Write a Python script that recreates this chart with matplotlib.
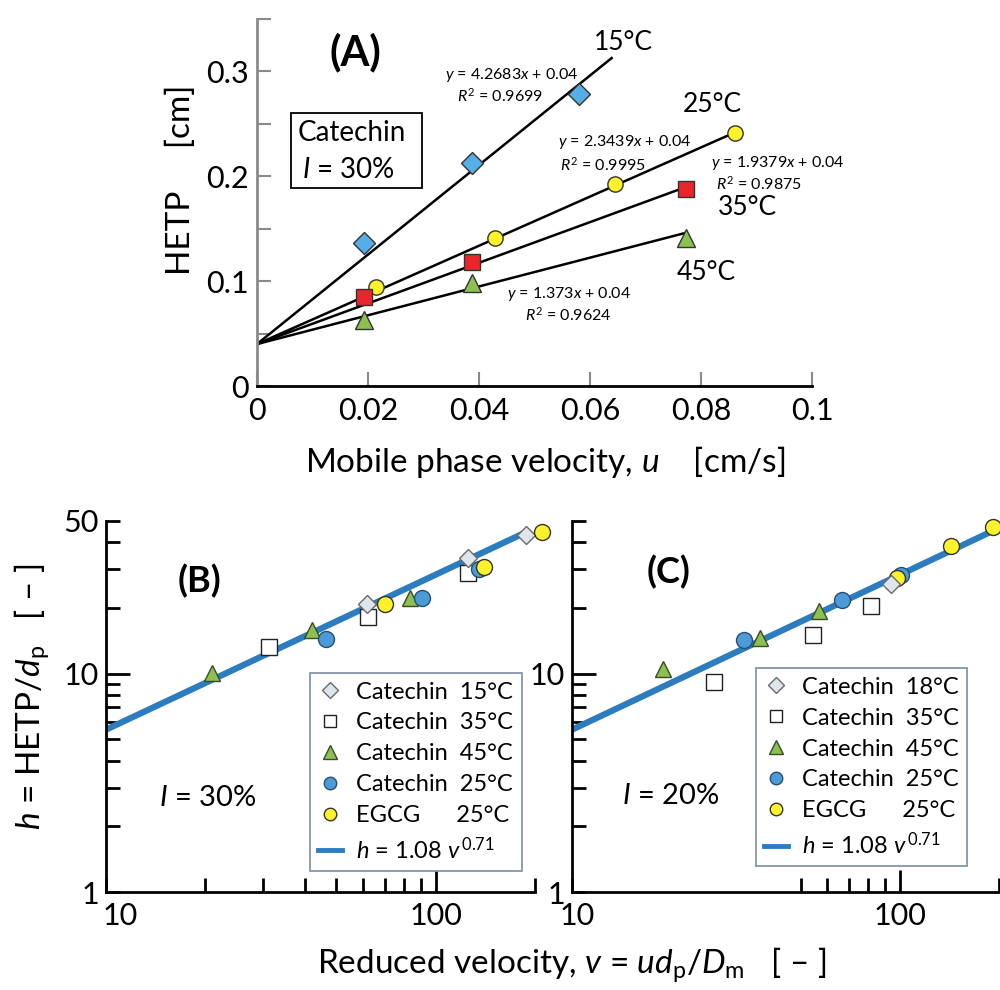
import matplotlib.pyplot as plt
import matplotlib.transforms as mtrans
import numpy as np
from matplotlib.patches import Rectangle
from matplotlib.lines import Line2D

plt.rcParams['font.family'] = ['Lato', 'DejaVu Sans']
plt.rcParams['mathtext.fontset'] = 'custom'
plt.rcParams['mathtext.rm'] = 'Lato'
plt.rcParams['mathtext.it'] = 'Lato:italic'
plt.rcParams['mathtext.bf'] = 'Lato:bold'

# ---- panel A data: HETP vs u (catechin, I = 30%)
a_u15 = [0.0193, 0.0388, 0.0581]
a_h15 = [0.136, 0.213, 0.278]
a_u25 = [0.0214, 0.0429, 0.0645, 0.0861]
a_h25 = [0.094, 0.141, 0.193, 0.2416]
a_u35 = [0.0193, 0.0388, 0.0773]
a_h35 = [0.085, 0.1178, 0.188]
a_u45 = [0.0193, 0.0388, 0.0773]
a_h45 = [0.063, 0.0987, 0.1416]
slopes = [4.2683, 2.3439, 1.9379, 1.373]
fit_end = [0.0639, 0.0861, 0.0773, 0.0773]
intercept = 0.04
r2 = [0.9699, 0.9995, 0.9875, 0.9624]
temps_A = ['15°C', '25°C', '35°C', '45°C']

# ---- panel B data (I = 30%)
b_cat15_v = [61.8, 125, 188]
b_cat15_h = [20.9, 33.9, 43.3]
b_cat35_v = [31.3, 62.4, 125]
b_cat35_h = [13.2, 18.2, 29.0]
b_cat45_v = [20.9, 42, 83.4]
b_cat45_h = [10.1, 15.8, 22.2]
b_cat25_v = [46.4, 90.6, 135]
b_cat25_h = [14.4, 22.1, 30.0]
b_egcg_v = [70, 140, 210]
b_egcg_h = [20.9, 30.7, 44.5]

# ---- panel C data (I = 20%)
c_cat18_v = [93.8]
c_cat18_h = [25.6]
c_cat35_v = [27.1, 54.2, 81.5]
c_cat35_h = [9.15, 15.0, 20.5]
c_cat45_v = [18.9, 37.5, 56.4]
c_cat45_h = [10.5, 14.5, 19.4]
c_cat25_v = [33.5, 66.6, 100.5]
c_cat25_h = [14.2, 21.8, 28.2]
c_egcg_v = [97.7, 143, 192]
c_egcg_h = [27.5, 38.3, 46.7]

h_coef, h_exp = 1.08, 0.71

fig = plt.figure(figsize=(10, 9.9), dpi=100)
H = 990.0

def px_axes(l, r, t, b):
    return fig.add_axes([l / 1000, 1 - b / H, (r - l) / 1000, (b - t) / H])

# ================= panel A
axA = px_axes(257, 812, 19, 386)
axA.set_xlim(0, 0.1)
axA.set_ylim(0, 0.35)
for s in ['top', 'right']:
    axA.spines[s].set_visible(False)
axA.spines['left'].set_color('#8a8a8a')
axA.spines['left'].set_linewidth(2)
axA.spines['bottom'].set_linewidth(2)
axA.set_xticks([0, 0.02, 0.04, 0.06, 0.08, 0.1], ['0', '0.02', '0.04', '0.06', '0.08', '0.1'])
axA.set_yticks([0, 0.1, 0.2, 0.3], ['0', '0.1', '0.2', '0.3'])
axA.set_yticks([0.05, 0.15, 0.25, 0.35], minor=True)
axA.tick_params(direction='in', length=10, width=1.5, color='#8a8a8a', labelsize=22)
axA.tick_params(axis='y', which='both', direction='in', length=10, width=1.5, color='#8a8a8a', pad=6)
axA.tick_params(axis='x', pad=8)

series = [(a_u15, a_h15, 'D', '#56aee6', 11), (a_u25, a_h25, 'o', '#fff22a', 11),
          (a_u35, a_h35, 's', '#e8262b', 12), (a_u45, a_h45, '^', '#8cc152', 13)]
for (u, h, m, c, ms), k, xe in zip(series, slopes, fit_end):
    xs = np.array([0, xe])
    axA.plot(xs, intercept + k * xs, color='black', lw=1.8, zorder=2)
    axA.plot(u, h, m, ms=ms, mfc=c, mec='#333333', mew=1.0, ls='none', zorder=3)

eq_pos = [((0.0459, 0.297), (0.0438, 0.277)),
          ((0.0663, 0.2324), (0.0623, 0.2114)),
          ((0.0939, 0.2124), (0.0904, 0.1933)),
          ((0.0562, 0.0876), (0.0560, 0.0676))]
for k, r, (p1, p2) in zip(slopes, r2, eq_pos):
    axA.text(*p1, '$y$ = %s$x$ + 0.04' % k, fontsize=11.5, ha='center', va='center')
    axA.text(*p2, '$R^2$ = %s' % r, fontsize=11.5, ha='center', va='center')

temp_pos = [(0.066, 0.328), (0.082, 0.268), (0.0883, 0.170), (0.081, 0.1086)]
for t, p in zip(temps_A, temp_pos):
    axA.text(*p, t, fontsize=19, ha='center', va='center')

axA.add_patch(Rectangle((0.0061, 0.1886), 0.0236, 0.0714, fill=False, lw=1.3, ec='black'))
axA.text(0.0170, 0.241, 'Catechin', fontsize=20, ha='center', va='center')
axA.text(0.0165, 0.2057, '$I$ = 30%', fontsize=20, ha='center', va='center')
axA.text(0.0178, 0.318, '(A)', fontsize=30, fontweight='bold', ha='center', va='center')

fig.text(0.545, 1 - 462 / H, 'Mobile phase velocity, $u$    [cm/s]', fontsize=24, ha='center', va='center')
fig.text(0.181, 1 - 180 / H, 'HETP     [cm]', fontsize=24, ha='center', va='center', rotation=90)

# ================= panels B and C
def loglog_panel(ax, minor_x, label50, shift10):
    ax.set_xscale('log')
    ax.set_yscale('log')
    ax.set_xlim(10, 200)
    ax.set_ylim(1, 50)
    for s in ['top', 'right']:
        ax.spines[s].set_visible(False)
    for s in ['left', 'bottom']:
        ax.spines[s].set_linewidth(2)
    ax.set_xticks([10, 100, 200], ['10', '100', ''])
    ax.set_xticks(minor_x, [''] * len(minor_x), minor=True)
    ax.set_yticks([1, 10, 50], ['1', '10', label50])
    ax.set_yticks([2, 3, 4, 5, 6, 7, 8, 9, 20, 30, 40], [''] * 11, minor=True)
    ax.tick_params(which='both', direction='in', length=10, width=2, color='black', labelsize=22)
    ax.tick_params(axis='y', pad=5)
    ax.tick_params(axis='x', pad=7)
    ax.xaxis.get_major_ticks()[1].tick1line.set_color('#8a8a8a')
    ax.xaxis.get_major_ticks()[1].tick1line.set_markersize(16)
    ax.yaxis.get_major_ticks()[1].tick1line.set_color('#8a8a8a')
    ax.yaxis.get_major_ticks()[1].tick1line.set_markersize(17)
    lab = ax.xaxis.get_major_ticks()[0].label1
    lab.set_transform(lab.get_transform() + mtrans.ScaledTranslation(shift10 / 100, 0, fig.dpi_scale_trans))

    v = np.array([10, 192])
    ax.plot(v, h_coef * v ** h_exp, color='#2c7cc0', lw=4.5, zorder=2, solid_capstyle='butt')

mk = dict(ls='none', mew=1.0, clip_on=False)

axB = px_axes(106, 535, 521, 892)
loglog_panel(axB, [20, 30, 40, 50, 60, 70, 80, 90], '50', 14)
axB.plot(b_cat35_v, b_cat35_h, 's', ms=11, mfc='white', mec='#222222', zorder=3, **mk)
axB.plot(b_cat15_v, b_cat15_h, 'D', ms=9.5, mfc='#dfe5ec', mec='#6a6a6a', zorder=4, **mk)
axB.plot(b_cat45_v, b_cat45_h, '^', ms=12, mfc='#8cc152', mec='#3a4a2a', zorder=4, **mk)
axB.plot(b_cat25_v, b_cat25_h, 'o', ms=11.5, mfc='#4a9bd8', mec='#2a4f6e', zorder=4, **mk)
axB.plot(b_egcg_v, b_egcg_h, 'o', ms=11.5, mfc='#fff22a', mec='#333333', zorder=5, **mk)
axB.text(0.219, 0.839, '(B)', transform=axB.transAxes, fontsize=26, fontweight='bold', ha='center', va='center')
axB.text(0.236, 0.254, '$I$ = 30%', transform=axB.transAxes, fontsize=21, ha='center', va='center')

axC = px_axes(572, 999, 521, 892)
loglog_panel(axC, [50, 60, 70, 80, 90], '', 5)
axC.plot(c_cat35_v, c_cat35_h, 's', ms=11, mfc='white', mec='#222222', zorder=3, **mk)
axC.plot(c_cat45_v, c_cat45_h, '^', ms=12, mfc='#8cc152', mec='#3a4a2a', zorder=4, **mk)
axC.plot(c_cat25_v, c_cat25_h, 'o', ms=11.5, mfc='#4a9bd8', mec='#2a4f6e', zorder=4, **mk)
axC.plot(c_egcg_v, c_egcg_h, 'o', ms=11.5, mfc='#fff22a', mec='#333333', zorder=5, **mk)
axC.plot(c_cat18_v, c_cat18_h, 'D', ms=9.5, mfc='#dfe5ec', mec='#6a6a6a', zorder=6, **mk)
axC.text(0.225, 0.862, '(C)', transform=axC.transAxes, fontsize=26, fontweight='bold', ha='center', va='center')
axC.text(0.23, 0.26, '$I$ = 20%', transform=axC.transAxes, fontsize=21, ha='center', va='center')

def legend_for(ax, t1, anchor):
    handles = [
        Line2D([], [], marker='D', ls='none', ms=8, mfc='#dfe5ec', mec='#6a6a6a'),
        Line2D([], [], marker='s', ls='none', ms=9, mfc='white', mec='#222222'),
        Line2D([], [], marker='^', ls='none', ms=10, mfc='#8cc152', mec='#3a4a2a'),
        Line2D([], [], marker='o', ls='none', ms=9, mfc='#4a9bd8', mec='#2a4f6e'),
        Line2D([], [], marker='o', ls='none', ms=9, mfc='#fff22a', mec='#333333'),
        Line2D([], [], color='#2c7cc0', lw=3.5),
    ]
    labels = ['Catechin  ' + t1, 'Catechin  35°C', 'Catechin  45°C', 'Catechin  25°C',
              'EGCG' + ' ' * 6 + '25°C', '$h$ = 1.08 $v^{\\,0.71}$']
    leg = ax.legend(handles, labels, loc='lower left', bbox_to_anchor=anchor, fontsize=17,
                    frameon=True, fancybox=False, edgecolor='#8596aa', framealpha=1,
                    handlelength=1.0, handletextpad=0.6, borderpad=0.35, labelspacing=0.42,
                    borderaxespad=0)
    leg.get_frame().set_linewidth(1.3)
    return leg

legend_for(axB, '15°C', (0.476, 0.057))
legend_for(axC, '18°C', (0.431, 0.07))

fig.text(0.572, 1 - 965 / H, 'Reduced velocity, $v$ = $ud_\\mathrm{p}/D_\\mathrm{m}$   [ – ]',
         fontsize=24, ha='center', va='center')
fig.text(0.032, 1 - 697 / H, '$h$ = HETP/$d_\\mathrm{p}$   [ – ]', fontsize=24,
         ha='center', va='center', rotation=90)

fig.savefig('out.png', dpi=100)
